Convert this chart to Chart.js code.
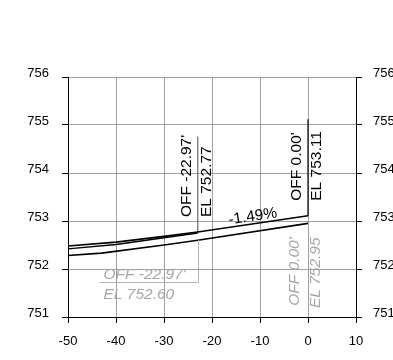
<!DOCTYPE html>
<html>
<head>
<meta charset="utf-8">
<script src="https://cdn.jsdelivr.net/npm/chart.js@4.4.0/dist/chart.umd.min.js"></script>
<style>
  html, body { margin: 0; padding: 0; background: #fff; }
</style>
</head>
<body>
<canvas id="sectionChart" width="393" height="360"></canvas>
<script>
// finished grade (top line)
const gradeStations = [-50, -40, -30, -22.97, 0];
const gradeElevations = [752.48, 752.56, 752.68, 752.77, 753.11];

// second line just under the grade, left side only
const existingStations = [-50, -40, -30, -22.97];
const existingElevations = [752.42, 752.51, 752.65, 752.75];

// bottom line
const baseStations = [-50, -43, -30, -22.97, 0];
const baseElevations = [752.28, 752.33, 752.50, 752.60, 752.95];

// callouts
const calloutOffsets = [-22.97, 0];
const calloutTopEl = [752.77, 753.11];
const calloutBottomEl = [752.60, 752.95];
const leaderTopEl = [754.76, 755.12];
const slopeText = '-1.49%';

// axes
const xTicks = [-50, -40, -30, -20, -10, 0, 10];
const yTicks = [751, 752, 753, 754, 755, 756];

const FONT = "'Liberation Sans', Arial, sans-serif";

const toPoints = (xs, ys) => xs.map((x, i) => ({ x: x, y: ys[i] }));

const lineSet = (data, color, width) => ({
    data: data,
    showLine: true,
    borderColor: color,
    backgroundColor: color,
    borderWidth: width,
    pointRadius: 0,
    tension: 0,
    fill: false
});

const leaderColors = ['#6a6a6a', '#000000'];

const datasets = [
    lineSet(toPoints(gradeStations, gradeElevations), '#000', 1.6),
    lineSet(toPoints(existingStations, existingElevations), '#000', 1.4),
    lineSet(toPoints(baseStations, baseElevations), '#000', 1.6)
];
calloutOffsets.forEach((off, i) => {
    datasets.push(lineSet([{ x: off, y: calloutTopEl[i] }, { x: off, y: leaderTopEl[i] }], leaderColors[i], 1.2));
});

function vText(ctx, text, cx, cy, align) {
    ctx.save();
    ctx.translate(cx, cy);
    ctx.rotate(-Math.PI / 2);
    ctx.textAlign = align;
    ctx.textBaseline = 'middle';
    ctx.fillText(text, 0, 0);
    ctx.restore();
}

const calloutPlugin = {
    id: 'callouts',
    afterDatasetsDraw(chart) {
        const ctx = chart.ctx;
        const xs = chart.scales.x;
        const ys = chart.scales.y;
        ctx.save();

        // upper labels (black, rotated)
        ctx.fillStyle = '#000';
        ctx.font = '15.5px ' + FONT;
        calloutOffsets.forEach((off, i) => {
            const px = xs.getPixelForValue(off);
            const py = ys.getPixelForValue(calloutTopEl[i]);
            vText(ctx, "OFF " + off.toFixed(2) + "'", px - 11, py - 15, 'left');
            vText(ctx, 'EL ' + calloutTopEl[i].toFixed(2), px + 9, py - 15, 'left');
        });

        // lower labels (gray italic)
        ctx.fillStyle = '#a6a6a6';
        ctx.strokeStyle = '#b4b4b4';
        ctx.lineWidth = 1;
        ctx.font = 'italic 15.5px ' + FONT;
        calloutOffsets.forEach((off, i) => {
            const px = xs.getPixelForValue(off);
            const py = ys.getPixelForValue(calloutBottomEl[i]);
            const offLabel = "OFF " + off.toFixed(2) + "'";
            const elLabel = 'EL ' + calloutBottomEl[i].toFixed(2);
            if (i === 0) {
                const by = Math.round(py + 42) + 0.5;
                const w = ctx.measureText(offLabel).width;
                const left = px - 12 - w;
                ctx.beginPath();
                ctx.moveTo(Math.round(px) + 0.5, py);
                ctx.lineTo(Math.round(px) + 0.5, by);
                ctx.lineTo(left - 4, by);
                ctx.stroke();
                ctx.textAlign = 'left';
                ctx.textBaseline = 'alphabetic';
                ctx.fillText(offLabel, left, by - 3.5);
                ctx.fillText(elLabel, left, by + 16.5);
            } else {
                vText(ctx, offLabel, px - 13, py + 14, 'right');
                vText(ctx, elLabel, px + 8, py + 14, 'right');
            }
        });

        // slope label
        const x0 = xs.getPixelForValue(calloutOffsets[0]);
        const y0 = ys.getPixelForValue(calloutTopEl[0]);
        const x1 = xs.getPixelForValue(calloutOffsets[1]);
        const y1 = ys.getPixelForValue(calloutTopEl[1]);
        ctx.save();
        ctx.translate((x0 + x1) / 2 + 1, (y0 + y1) / 2);
        ctx.rotate(Math.atan2(y1 - y0, x1 - x0));
        ctx.fillStyle = '#000';
        ctx.font = '15.5px ' + FONT;
        ctx.textAlign = 'center';
        ctx.textBaseline = 'alphabetic';
        ctx.fillText(slopeText, 0, -3);
        ctx.restore();

        ctx.restore();
    }
};

const tickFont = { family: FONT, size: 13 };

new Chart(document.getElementById('sectionChart').getContext('2d'), {
    type: 'scatter',
    data: { datasets: datasets },
    options: {
        responsive: false,
        animation: false,
        layout: { padding: { top: 77, left: 0, right: 0, bottom: 0 } },
        plugins: {
            legend: { display: false },
            tooltip: { enabled: false }
        },
        scales: {
            x: {
                type: 'linear',
                min: xTicks[0],
                max: xTicks[xTicks.length - 1],
                afterBuildTicks: s => { s.ticks = xTicks.map(v => ({ value: v })); },
                afterFit: s => { s.height = 43; },
                ticks: { color: '#000', font: tickFont, padding: 11, maxRotation: 0 },
                grid: { color: '#a0a0a0', tickColor: '#000', tickLength: 6 },
                border: { color: '#000', width: 1 }
            },
            y: {
                type: 'linear',
                position: 'left',
                min: yTicks[0],
                max: yTicks[yTicks.length - 1],
                afterBuildTicks: s => { s.ticks = yTicks.map(v => ({ value: v })); },
                afterFit: s => { s.width = 68; },
                ticks: { color: '#000', font: tickFont, padding: 13, labelOffset: -3.5 },
                grid: { color: '#a0a0a0', tickColor: '#000', tickLength: 6 },
                border: { color: '#000', width: 1 }
            },
            y2: {
                type: 'linear',
                position: 'right',
                min: yTicks[0],
                max: yTicks[yTicks.length - 1],
                afterBuildTicks: s => { s.ticks = yTicks.map(v => ({ value: v })); },
                afterFit: s => { s.width = 37; },
                ticks: { color: '#000', font: tickFont, padding: 11, labelOffset: -3.5 },
                grid: { drawOnChartArea: false, tickColor: '#000', tickLength: 6 },
                border: { color: '#000', width: 1 }
            }
        }
    },
    plugins: [calloutPlugin]
});
</script>
</body>
</html>
